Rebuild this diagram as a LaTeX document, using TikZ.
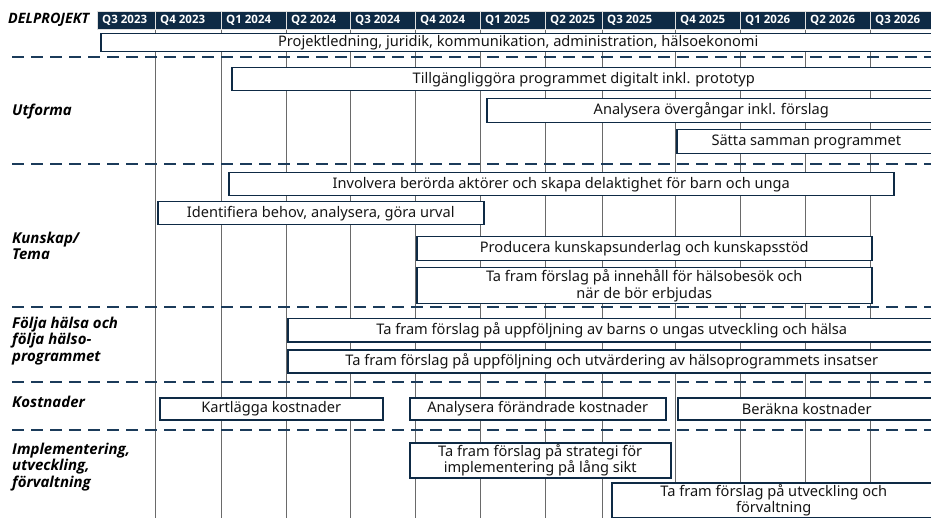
\documentclass[tikz,border=0pt]{standalone}
\usepackage{fontspec}
\setmainfont{Noto Sans}
\newfontfamily\boldfam{Open Sans}
\definecolor{navy}{HTML}{0E2A45}
\definecolor{dashc}{HTML}{1B3B5A}
\definecolor{gridc}{HTML}{6A6A6A}
\definecolor{txt}{HTML}{151515}
\newcommand\bx[6]{\node[box, minimum width={#4pt-#2pt}, minimum height={#5pt-#3pt}] (#1) at (#2,#3) {#6};}
\begin{document}
\begin{tikzpicture}[x=1pt,y=-1pt,
  box/.style={draw=navy, line width=1.5pt, fill=white, inner sep=0pt, anchor=north west, text=txt, font=\fontsize{14.6}{16.5}\selectfont, align=center},
  hdr/.style={fill=navy, draw=white!75!gray, line width=0.8pt},
  hdrtxt/.style={text=white, font=\boldfam\fontsize{11.5}{12}\selectfont\bfseries, anchor=west, inner sep=0pt},
  lbl/.style={font=\boldfam\fontsize{15}{16.5}\selectfont\bfseries\itshape, anchor=west, align=left, inner sep=0pt, text=black},
  sepline/.style={draw=dashc, line width=2.2pt, dash pattern=on 11.5pt off 7.5pt},
  gridline/.style={draw=gridc, line width=1pt}]
\useasboundingbox (0,0) rectangle (931,518);
\clip (0,0) rectangle (931,518);
\fill[white] (0,0) rectangle (931,518);
% grid lines
\foreach \x in {155,221,286,350,415,480,545,602,675,740,805,870}
  \draw[gridline] (\x,29) -- (\x,520);
% header
\foreach \a/\b/\t [count=\i] in {97/155/Q3 2023,155/221/Q4 2023,221/286/Q1 2024,286/350/Q2 2024,350/415/Q3 2024,415/480/Q4 2024,480/545/Q1 2025,545/602/Q2 2025,602/675/Q3 2025,675/740/Q4 2025,740/805/Q1 2026,805/870/Q2 2026,870/940/Q3 2026}{
  \draw[hdr] (\a,11) rectangle (\b,29);
  \node[hdrtxt] (h\i) at (\a+5,20) {\t};
}
\node[lbl, font=\boldfam\fontsize{14.3}{16}\selectfont\bfseries\itshape] (lab0) at (8,20) {DELPROJEKT};
% separators
\foreach \y in {57,164,307,382,430}
  \draw[sepline] (12,\y) -- (935,\y);
% labels
\node[lbl] (lab1) at (12,112) {Utforma};
\node[lbl] (lab2) at (12,246) {Kunskap/\\Tema};
\node[lbl] (lab3) at (12,341) {Följa hälsa och\\följa hälso-\\programmet};
\node[lbl] (lab4) at (12,402) {Kostnader};
\node[lbl] (lab5) at (12,467) {Implementering,\\utveckling,\\förvaltning};
% boxes
\bx{b1}{100}{33}{935}{51}{Projektledning, juridik, kommunikation, administration, hälsoekonomi}
\bx{b2}{231}{67}{935}{90}{Tillgängliggöra programmet digitalt inkl. prototyp}
\bx{b3}{486}{98}{935}{122}{Analysera övergångar inkl. förslag}
\bx{b4}{676}{129}{935}{153}{Sätta samman programmet}
\bx{b5}{228}{172}{893}{195}{Involvera berörda aktörer och skapa delaktighet för barn och unga}
\bx{b6}{157}{201}{483}{224}{Identifiera behov, analysera, göra urval}
\bx{b7}{416}{236}{871}{260}{Producera kunskapsunderlag och kunskapsstöd}
\bx{b8}{416}{267}{871}{303}{Ta fram förslag på innehåll för hälsobesök och\\när de bör erbjudas}
\bx{b9}{287}{318}{935}{341}{Ta fram förslag på uppföljning av barns o ungas utveckling och hälsa}
\bx{b10}{287}{349}{935}{372}{Ta fram förslag på uppföljning och utvärdering av hälsoprogrammets insatser}
\bx{b11}{159}{397}{382}{419}{Kartlägga kostnader}
\bx{b12}{409}{397}{665}{419}{Analysera förändrade kostnader}
\bx{b13}{677}{397}{935}{419}{Beräkna kostnader}
\bx{b14}{409}{442}{670}{477}{Ta fram förslag på strategi för\\implementering på lång sikt}
\bx{b15}{611}{482}{935}{517}{Ta fram förslag på utveckling och\\förvaltning}
\end{tikzpicture}
\end{document}
